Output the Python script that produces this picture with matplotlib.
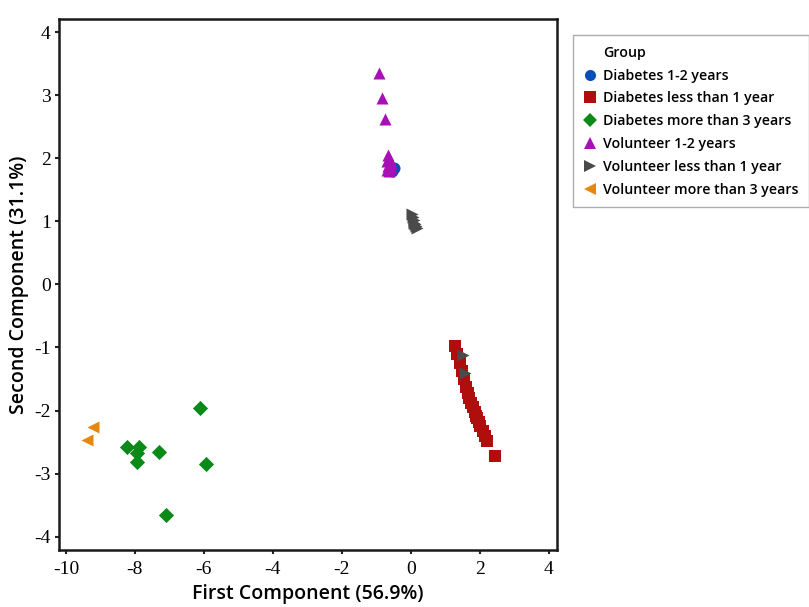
import matplotlib
matplotlib.use("Agg")
import matplotlib.pyplot as plt
from matplotlib.lines import Line2D

# Data
dia12_x = [-0.55, -0.50, -0.60]
dia12_y = [1.80, 1.84, 1.82]

dia_lt1_x = [1.27, 1.35, 1.42, 1.48, 1.55, 1.60, 1.65, 1.70, 1.75, 1.80, 1.85, 1.88, 1.92, 1.97, 2.02, 2.08, 2.15, 2.22, 2.45]
dia_lt1_y = [-0.97, -1.10, -1.25, -1.38, -1.50, -1.62, -1.72, -1.80, -1.88, -1.95, -2.02, -2.08, -2.12, -2.18, -2.25, -2.32, -2.40, -2.48, -2.72]

dia_gt3_x = [-6.10, -8.22, -7.88, -7.93, -7.95, -7.29, -5.93, -7.09]
dia_gt3_y = [-1.96, -2.58, -2.58, -2.81, -2.68, -2.66, -2.85, -3.65]

vol12_x = [-0.92, -0.83, -0.74, -0.66, -0.62, -0.70, -0.58, -0.66, -0.57, -0.70, -0.63]
vol12_y = [3.35, 2.95, 2.62, 2.05, 2.00, 1.95, 1.92, 1.88, 1.85, 1.82, 1.80]

vol_lt1_x = [0.02, 0.05, 0.08, 0.10, 0.12, 0.15, 0.18, 1.50, 1.58]
vol_lt1_y = [1.12, 1.07, 1.02, 0.98, 0.95, 0.92, 0.90, -1.12, -1.40]

vol_gt3_x = [-9.21, -9.38]
vol_gt3_y = [-2.26, -2.46]

groups = [
    ("Diabetes 1-2 years", dia12_x, dia12_y, "o", "#0a4fb5"),
    ("Diabetes less than 1 year", dia_lt1_x, dia_lt1_y, "s", "#b00d0d"),
    ("Diabetes more than 3 years", dia_gt3_x, dia_gt3_y, "D", "#0a8a17"),
    ("Volunteer 1-2 years", vol12_x, vol12_y, "^", "#a80fb5"),
    ("Volunteer less than 1 year", vol_lt1_x, vol_lt1_y, ">", "#4a4a4a"),
    ("Volunteer more than 3 years", vol_gt3_x, vol_gt3_y, "<", "#e8870e"),
]

x_ticks = [-10, -8, -6, -4, -2, 0, 2, 4]
y_ticks = [-4, -3, -2, -1, 0, 1, 2, 3, 4]

fig = plt.figure(figsize=(8.09, 6.07), dpi=100)
ax = fig.add_axes([0.073, 0.094, 0.616, 0.875])

plot_order = [1, 4, 2, 5, 0, 3]
for i in plot_order:
    name, xs, ys, m, c = groups[i]
    ax.scatter(xs, ys, marker=m, s=75 if m != "D" else 60, color=c, linewidths=0, zorder=3)

ax.set_xlim(-10.2, 4.25)
ax.set_ylim(-4.21, 4.21)
ax.set_xticks(x_ticks)
ax.set_yticks(y_ticks)
ax.set_xticklabels([str(v) for v in x_ticks], fontfamily="Liberation Serif", fontsize=14)
ax.set_yticklabels([str(v) for v in y_ticks], fontfamily="Liberation Serif", fontsize=14)
ax.tick_params(direction="out", length=3, width=1.5, color="#222222")
ax.tick_params(axis="x", pad=5)
ax.tick_params(axis="y", pad=3)
for s in ax.spines.values():
    s.set_linewidth(1.8)
    s.set_color("#1a1a1a")

ax.set_xlabel("First Component (56.9%)", fontfamily="Open Sans", fontweight="semibold", fontsize=14, labelpad=4)
ax.set_ylabel("Second Component (31.1%)", fontfamily="Open Sans", fontweight="semibold", fontsize=14, labelpad=4)

handles = [Line2D([], [], marker=m, linestyle="none", color=c, markersize=8 if m != "D" else 7, markeredgewidth=0)
           for (_, _, _, m, c) in groups]
labels = [g[0] for g in groups]
leg = fig.legend(handles, labels, title="Group", loc="upper left",
                 bbox_to_anchor=(0.708, 0.942), frameon=True, fancybox=False,
                 prop={"family": "Open Sans", "size": 10.2, "weight": "semibold"}, handletextpad=0.4,
                 handlelength=1.0, labelspacing=0.62, borderpad=0.75, borderaxespad=0)
leg.get_frame().set_edgecolor("#999999")
leg.get_frame().set_linewidth(1.0)
leg.get_title().set_fontfamily("Open Sans")
leg.get_title().set_fontsize(10.2)
leg.get_title().set_fontweight("semibold")
leg._legend_box.align = "left"
leg.get_title().set_position((20, 0))

fig.savefig("out.png", dpi=100)
